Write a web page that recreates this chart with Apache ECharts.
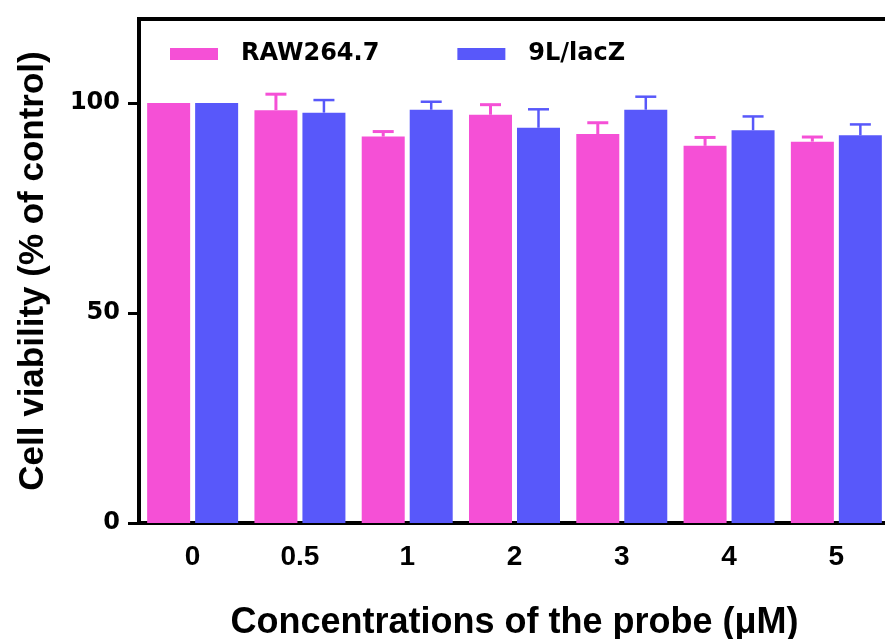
<!DOCTYPE html>
<html>
<head>
<meta charset="utf-8">
<script src="https://cdn.jsdelivr.net/npm/echarts@6/dist/echarts.min.js"></script>
<style>
  html, body { margin: 0; padding: 0; background: #fff; }
  #chart { width: 885px; height: 639px; }
</style>
</head>
<body>
<div id="chart"></div>
<script>
const categories = ['0', '0.5', '1', '2', '3', '4', '5']
const rawMean = [100, 98.3, 92.0, 97.2, 92.6, 89.8, 90.8]
const rawErr = [0, 3.8, 1.2, 2.4, 2.7, 2.0, 1.1]
const lacZMean = [100, 97.7, 98.4, 94.1, 98.4, 93.5, 92.3]
const lacZErr = [0, 3.0, 1.9, 4.4, 3.1, 3.3, 2.6]
const yTicks = [0, 50, 100]

const pink = '#F550D6'
const blue = '#5858FA'
const barW = 43
const gapPx = 5

const chart = echarts.init(document.getElementById('chart'))

// upward-only error bars, shifted onto each bar of the pair
const errorSeries = (name, mean, err, color, side, width) => ({
  name: name + ' err',
  type: 'custom',
  z: 5,
  clip: false,
  data: mean.map((m, i) => [i, m, err[i]]),
  renderItem: (params, api) => {
    const i = api.value(0)
    const m = api.value(1)
    const e = api.value(2)
    if (!e) return null
    const off = side * (barW / 2 + gapPx / 2)
    const base = api.coord([i, m])
    const top = api.coord([i, m + e])
    const x = base[0] + off
    const style = { stroke: color, lineWidth: width }
    return {
      type: 'group',
      children: [
        { type: 'line', shape: { x1: x, y1: base[1], x2: x, y2: top[1] }, style },
        { type: 'line', shape: { x1: x - 10.5, y1: top[1], x2: x + 10.5, y2: top[1] }, style }
      ]
    }
  }
})

const option = {
  animation: false,
  grid: {
    left: 139,
    right: -5,
    top: 19,
    bottom: 116,
    outerBoundsMode: 'none',
    show: true,
    borderColor: '#000',
    borderWidth: 4
  },
  legend: {
    data: ['RAW264.7', '9L/lacZ'],
    left: 165,
    top: 37,
    itemWidth: 48,
    itemHeight: 12,
    itemGap: 78,
    icon: 'rect',
    textStyle: {
      fontFamily: 'DejaVu Sans',
      fontWeight: 'bold',
      fontSize: 24,
      color: '#000',
      padding: [0, 0, 0, 18]
    }
  },
  xAxis: {
    type: 'category',
    data: categories,
    name: 'Concentrations of the probe (\u03bcM)',
    nameLocation: 'middle',
    nameGap: 82,
    nameTextStyle: {
      fontFamily: 'Liberation Sans',
      fontWeight: 'bold',
      fontSize: 36,
      color: '#000'
    },
    axisLine: { lineStyle: { color: '#000', width: 4 } },
    axisTick: {
      alignWithLabel: true,
      length: 11,
      lineStyle: { color: '#000', width: 4 }
    },
    axisLabel: {
      margin: 20,
      fontFamily: 'Liberation Sans',
      fontWeight: 'bold',
      fontSize: 28,
      color: '#000'
    }
  },
  yAxis: {
    type: 'value',
    min: 0,
    max: 120,
    interval: 50,
    name: 'Cell viability (% of control)',
    nameLocation: 'middle',
    nameGap: 88,
    nameTextStyle: {
      fontFamily: 'Liberation Sans',
      fontWeight: 'bold',
      fontSize: 35,
      color: '#000'
    },
    splitLine: { show: false },
    axisLine: { show: true, lineStyle: { color: '#000', width: 4 } },
    axisTick: {
      show: true,
      length: 11,
      customValues: yTicks,
      lineStyle: { color: '#000', width: 3 }
    },
    axisLabel: {
      margin: 19,
      customValues: yTicks,
      fontFamily: 'DejaVu Sans',
      fontWeight: 'bold',
      fontSize: 24,
      color: '#000'
    }
  },
  series: [
    {
      name: 'RAW264.7',
      type: 'bar',
      data: rawMean,
      barWidth: barW,
      barGap: (gapPx / barW * 100).toFixed(1) + '%',
      itemStyle: { color: pink }
    },
    {
      name: '9L/lacZ',
      type: 'bar',
      data: lacZMean,
      barWidth: barW,
      itemStyle: { color: blue }
    },
    errorSeries('RAW264.7', rawMean, rawErr, pink, -1, 3),
    errorSeries('9L/lacZ', lacZMean, lacZErr, blue, 1, 2.5)
  ]
}

chart.setOption(option)
</script>
</body>
</html>
